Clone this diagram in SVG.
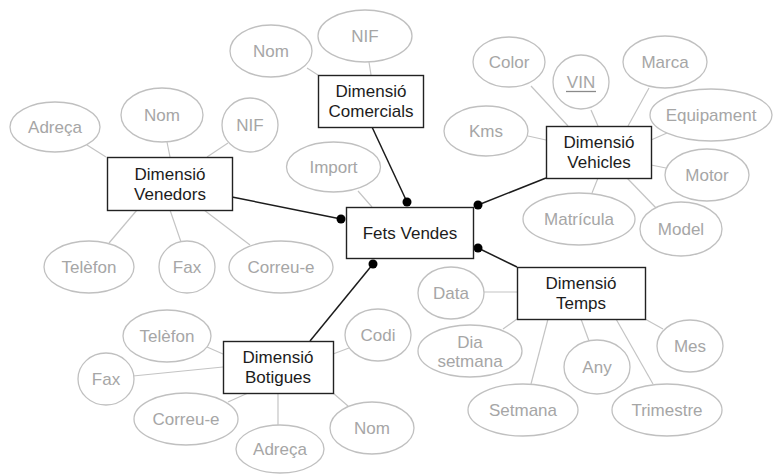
<svg xmlns="http://www.w3.org/2000/svg" width="773" height="474" viewBox="0 0 773 474">
  <style>
    text { font-family: "Liberation Sans", Arial, Helvetica, sans-serif; font-size: 17px; text-anchor: middle; }
    .attr ellipse { fill: #ffffff; stroke: #c0c0c0; stroke-width: 1.3; }
    .attr text { fill: #a6a6a6; }
    .ent rect { fill: #ffffff; stroke: #222222; stroke-width: 1.4; }
    .ent text { fill: #1c1c1c; }
    .link { stroke: #c4c4c4; stroke-width: 1.2; fill: none; }
    .rel { stroke: #1c1c1c; stroke-width: 1.5; fill: none; }
    .dot { fill: #000000; }
  </style>
  <rect width="773" height="474" fill="#ffffff"/>

  <!-- connectors: attribute links and fact-to-dimension relations -->
  <g id="connectors">
    <!-- Dimensió Comercials -->
    <line class="link" x1="307" y1="68" x2="318" y2="75"/>
    <line class="link" x1="369" y1="62" x2="371" y2="75"/>
    <!-- Dimensió Venedors -->
    <line class="link" x1="87" y1="145" x2="106" y2="157"/>
    <line class="link" x1="167" y1="142" x2="170" y2="157"/>
    <line class="link" x1="228" y1="143" x2="207" y2="157"/>
    <line class="link" x1="137" y1="210" x2="109" y2="243"/>
    <line class="link" x1="170" y1="210" x2="181" y2="242"/>
    <line class="link" x1="204" y1="210" x2="250" y2="245"/>
    <!-- Import -->
    <line class="link" x1="358" y1="191" x2="372" y2="207"/>
    <!-- Dimensió Vehicles -->
    <line class="link" x1="531" y1="86" x2="568" y2="126"/>
    <line class="link" x1="591" y1="110" x2="598" y2="126"/>
    <line class="link" x1="649" y1="88" x2="628" y2="126"/>
    <line class="link" x1="667" y1="133" x2="651" y2="140"/>
    <line class="link" x1="528" y1="136" x2="546" y2="140"/>
    <line class="link" x1="651" y1="165" x2="666" y2="168"/>
    <line class="link" x1="598" y1="178" x2="592" y2="193"/>
    <line class="link" x1="627" y1="178" x2="658" y2="210"/>
    <!-- Dimensió Temps -->
    <line class="link" x1="484" y1="292" x2="517" y2="292"/>
    <line class="link" x1="517" y1="319" x2="503" y2="329"/>
    <line class="link" x1="548" y1="319" x2="531" y2="384"/>
    <line class="link" x1="581" y1="319" x2="589" y2="341"/>
    <line class="link" x1="616" y1="319" x2="653" y2="384"/>
    <line class="link" x1="645" y1="319" x2="663" y2="329"/>
    <!-- Dimensió Botigues -->
    <line class="link" x1="207" y1="347" x2="223" y2="354"/>
    <line class="link" x1="133" y1="376" x2="223" y2="367"/>
    <line class="link" x1="228" y1="402" x2="248" y2="393"/>
    <line class="link" x1="278" y1="393" x2="278" y2="425"/>
    <line class="link" x1="333" y1="354" x2="349" y2="348"/>
    <line class="link" x1="333" y1="393" x2="348" y2="406"/>

    <!-- relations to Fets Vendes -->
    <line class="rel" x1="232" y1="197" x2="341" y2="219"/>
    <line class="rel" x1="372" y1="127" x2="407" y2="202"/>
    <line class="rel" x1="546" y1="178" x2="478" y2="205"/>
    <line class="rel" x1="478" y1="248" x2="517" y2="267"/>
    <line class="rel" x1="373" y1="264" x2="310" y2="341"/>
    <circle class="dot" cx="341" cy="219" r="4.5"/>
    <circle class="dot" cx="407" cy="202" r="4.5"/>
    <circle class="dot" cx="478" cy="205" r="4.5"/>
    <circle class="dot" cx="478" cy="248" r="4.5"/>
    <circle class="dot" cx="373" cy="264" r="4.5"/>
  </g>

  <!-- fact table -->
  <g id="fets-vendes" class="ent">
    <rect x="346.5" y="207.5" width="127" height="51"/>
    <text x="410" y="238.5">Fets Vendes</text>
  </g>

  <!-- Dimensió Comercials -->
  <g id="dim-comercials" class="ent">
    <rect x="318.5" y="75.5" width="105" height="52"/>
    <text x="371" y="97">Dimensió</text>
    <text x="371" y="117">Comercials</text>
  </g>
  <g id="comercials-nom" class="attr"><ellipse cx="271" cy="51" rx="41" ry="26"/><text x="271" y="57">Nom</text></g>
  <g id="comercials-nif" class="attr"><ellipse cx="365" cy="36" rx="47" ry="26"/><text x="365" y="42">NIF</text></g>

  <!-- Dimensió Venedors -->
  <g id="dim-venedors" class="ent">
    <rect x="107.5" y="157.5" width="125" height="53"/>
    <text x="170" y="180">Dimensió</text>
    <text x="170" y="200">Venedors</text>
  </g>
  <g id="venedors-adreca" class="attr"><ellipse cx="55" cy="127" rx="45" ry="25"/><text x="55" y="133">Adreça</text></g>
  <g id="venedors-nom" class="attr"><ellipse cx="162" cy="115" rx="41" ry="27"/><text x="162" y="121">Nom</text></g>
  <g id="venedors-nif" class="attr"><ellipse cx="250" cy="125" rx="28" ry="27"/><text x="250" y="131">NIF</text></g>
  <g id="venedors-telefon" class="attr"><ellipse cx="89" cy="267" rx="45" ry="26"/><text x="89" y="273">Telèfon</text></g>
  <g id="venedors-fax" class="attr"><ellipse cx="187" cy="267" rx="28" ry="26"/><text x="187" y="273">Fax</text></g>
  <g id="venedors-correu" class="attr"><ellipse cx="281" cy="267" rx="52" ry="26"/><text x="281" y="273">Correu-e</text></g>

  <!-- measure on the fact table -->
  <g id="fets-import" class="attr"><ellipse cx="333.5" cy="167" rx="47" ry="25"/><text x="333.5" y="173">Import</text></g>

  <!-- Dimensió Vehicles -->
  <g id="dim-vehicles" class="ent">
    <rect x="546.5" y="126.5" width="105" height="52"/>
    <text x="599" y="148">Dimensió</text>
    <text x="599" y="168">Vehicles</text>
  </g>
  <g id="vehicles-color" class="attr"><ellipse cx="509" cy="62" rx="36" ry="25"/><text x="509" y="68">Color</text></g>
  <g id="vehicles-vin" class="attr"><ellipse cx="581" cy="82" rx="28" ry="27"/><text x="581" y="88">VIN</text><line x1="566" y1="91.5" x2="596" y2="91.5" stroke="#8a8a8a" stroke-width="1.3"/></g>
  <g id="vehicles-marca" class="attr"><ellipse cx="665" cy="62" rx="42" ry="26"/><text x="665" y="68">Marca</text></g>
  <g id="vehicles-equipament" class="attr"><ellipse cx="711" cy="115" rx="61" ry="26"/><text x="711" y="121">Equipament</text></g>
  <g id="vehicles-kms" class="attr"><ellipse cx="486" cy="131" rx="42" ry="25"/><text x="486" y="137">Kms</text></g>
  <g id="vehicles-motor" class="attr"><ellipse cx="707" cy="175" rx="42" ry="26"/><text x="707" y="181">Motor</text></g>
  <g id="vehicles-matricula" class="attr"><ellipse cx="579" cy="219" rx="56" ry="26"/><text x="579" y="225">Matrícula</text></g>
  <g id="vehicles-model" class="attr"><ellipse cx="681" cy="229" rx="41" ry="27"/><text x="681" y="235">Model</text></g>

  <!-- Dimensió Temps -->
  <g id="dim-temps" class="ent">
    <rect x="517.5" y="267.5" width="128" height="52"/>
    <text x="581" y="289">Dimensió</text>
    <text x="581" y="309">Temps</text>
  </g>
  <g id="temps-data" class="attr"><ellipse cx="451" cy="293" rx="33" ry="26"/><text x="451" y="299">Data</text></g>
  <g id="temps-dia" class="attr"><ellipse cx="470" cy="351" rx="52" ry="26"/><text x="470" y="348">Dia</text><text x="470" y="367">setmana</text></g>
  <g id="temps-any" class="attr"><ellipse cx="597" cy="367" rx="33" ry="27"/><text x="597" y="373">Any</text></g>
  <g id="temps-mes" class="attr"><ellipse cx="690" cy="346" rx="33" ry="26"/><text x="690" y="352">Mes</text></g>
  <g id="temps-setmana" class="attr"><ellipse cx="523" cy="410" rx="55" ry="26"/><text x="523" y="416">Setmana</text></g>
  <g id="temps-trimestre" class="attr"><ellipse cx="667" cy="410" rx="55" ry="26"/><text x="667" y="416">Trimestre</text></g>

  <!-- Dimensió Botigues -->
  <g id="dim-botigues" class="ent">
    <rect x="223.5" y="341.5" width="110" height="52"/>
    <text x="278" y="363">Dimensió</text>
    <text x="278" y="383">Botigues</text>
  </g>
  <g id="botigues-telefon" class="attr"><ellipse cx="167" cy="336" rx="44" ry="26"/><text x="167" y="342">Telèfon</text></g>
  <g id="botigues-fax" class="attr"><ellipse cx="106" cy="379" rx="28" ry="26"/><text x="106" y="385">Fax</text></g>
  <g id="botigues-correu" class="attr"><ellipse cx="186" cy="419" rx="52" ry="26"/><text x="186" y="425">Correu-e</text></g>
  <g id="botigues-adreca" class="attr"><ellipse cx="280" cy="449" rx="44" ry="24"/><text x="280" y="455">Adreça</text></g>
  <g id="botigues-codi" class="attr"><ellipse cx="378" cy="335" rx="33" ry="26"/><text x="378" y="341">Codi</text></g>
  <g id="botigues-nom" class="attr"><ellipse cx="372" cy="428" rx="42" ry="26"/><text x="372" y="434">Nom</text></g>
</svg>
